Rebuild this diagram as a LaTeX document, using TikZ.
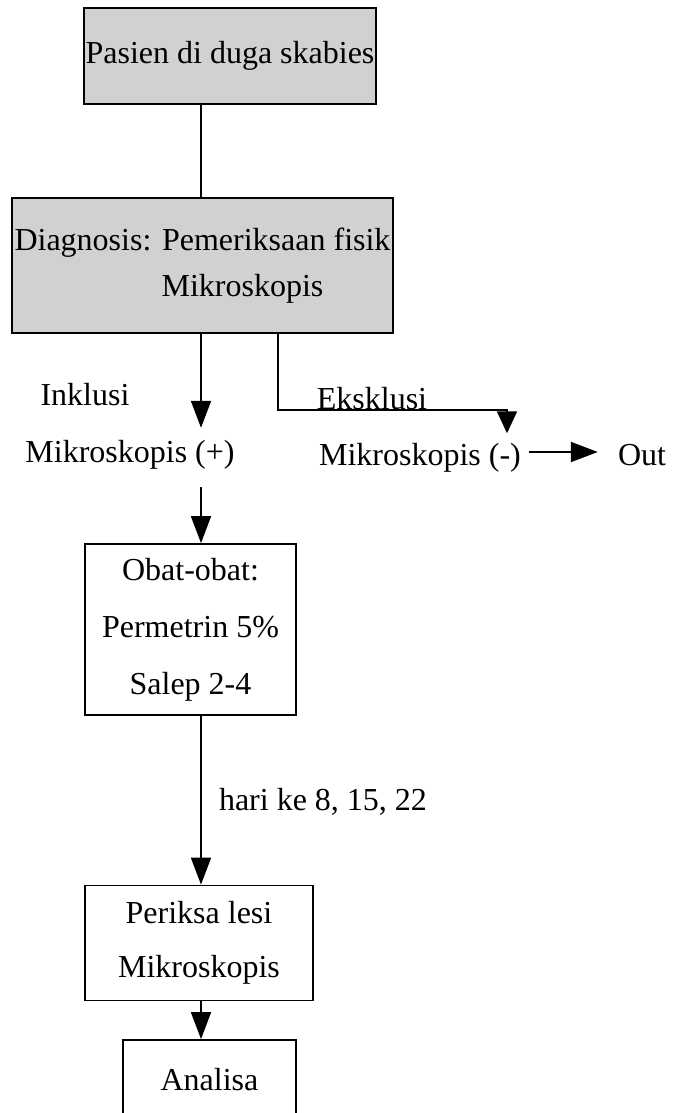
\documentclass[tikz,border=0pt]{standalone}
\usepackage{fontspec}
\setmainfont{Liberation Serif}
\usetikzlibrary{arrows.meta}
\tikzset{
  greybox/.style={draw, line width=2.4pt, fill=black!18, align=center, inner sep=0pt},
  whitebox/.style={draw, line width=1.8pt, align=center, inner sep=0pt},
  lbl/.style={inner sep=0pt, text height=22pt, text depth=7pt},
  ln/.style={line width=1.8pt},
  arr/.style={line width=1.8pt, -{Triangle[width=20pt,length=27pt]}},
  arrshort/.style={line width=1.8pt, -{Triangle[width=20pt,length=22pt]}}
}
\begin{document}
\begin{tikzpicture}[x=1pt, y=-1pt, font=\fontsize{32}{46}\selectfont]
      \useasboundingbox (0,0) rectangle (677,1113);
      \coordinate (col) at (201,0);
      \coordinate (rcol) at (278,0);
      % boxes
      \node[greybox, minimum width=292pt, minimum height=96pt] (pasien) at (230,56) {Pasien di duga skabies};
      \node[greybox, minimum width=381pt, minimum height=135pt] (diag) at (202.5,265.5) {Diagnosis: Pemeriksaan fisik\\\hspace*{80pt}Mikroskopis};
      \node[whitebox, minimum width=211pt, minimum height=171pt, font=\fontsize{32}{57}\selectfont] (obat) at (190.5,629.5) {Obat-obat:\\Permetrin 5\%\\Salep 2-4};
      \node[whitebox, minimum width=228pt, minimum height=115pt, font=\fontsize{32}{54}\selectfont] (periksa) at (199,943) {Periksa lesi\\Mikroskopis};
      \node[whitebox, minimum width=173pt, minimum height=80pt] (analisa) at (209.5,1080) {Analisa};
      % labels
      \node[lbl] (inkl) at (85,398) {Inklusi};
      \node[lbl] (mikpos) at (130,455) {Mikroskopis (+)};
      \node[lbl, anchor=base] (eks) at (372,409) {Eksklusi};
      \node[lbl] (mikneg) at (420,458) {Mikroskopis (-)};
      \node[lbl] (out) at (642,458) {Out};
      \node[lbl] (hari) at (323,803) {hari ke 8, 15, 22};
      % connectors
      \coordinate (turn) at (507,410);
      \draw[ln] (pasien.south -| col) -- (diag.north -| col);
      \draw[arr, shorten >=12.5pt] (diag.south -| col) -- (mikpos.north -| col);
      \draw[arrshort, shorten >=10pt] (diag.south -| rcol) |- (turn) -- (mikneg.north -| turn);
      \draw[arr, shorten <=8pt, shorten >=20pt] ([yshift=6pt]mikneg.east) -- ([yshift=6pt]mikneg.east -| out.west);
      \draw[arr, shorten <=17.5pt] (mikpos.south -| col) -- (obat.north -| col);
      \draw[arr] (obat.south -| col) -- (periksa.north -| col);
      \draw[arr] (periksa.south -| col) -- (analisa.north -| col);
    \end{tikzpicture}
\end{document}
